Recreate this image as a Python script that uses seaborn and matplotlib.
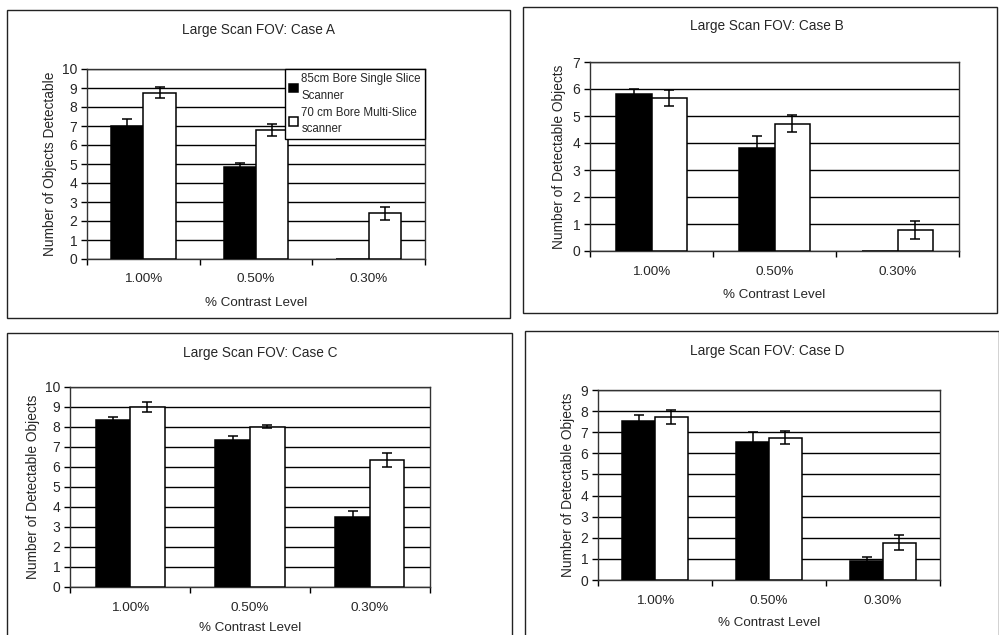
import matplotlib
matplotlib.use("Agg")
import matplotlib.pyplot as plt
from matplotlib.patches import Rectangle
import numpy as np
import pandas as pd
import seaborn as sns

# ---- data -------------------------------------------------------------
contrast_levels = ["1.00%", "0.50%", "0.30%"]
scanners = ["85cm Bore Single Slice\nScanner", "70 cm Bore Multi-Slice\nscanner"]

case_titles = ["Large Scan FOV: Case A", "Large Scan FOV: Case B",
               "Large Scan FOV: Case C", "Large Scan FOV: Case D"]
y_labels = ["Number of Objects Detectable", "Number of Detectable Objects",
            "Number of Detectable Objects", "Number of Detectable Objects"]
y_max = [10, 7, 10, 9]

single_slice_a = [7.0, 4.85, 0.0]
multi_slice_a = [8.75, 6.8, 2.4]
single_slice_err_a = [0.35, 0.2, 0.0]
multi_slice_err_a = [0.3, 0.32, 0.33]

single_slice_b = [5.8, 3.8, 0.0]
multi_slice_b = [5.68, 4.72, 0.78]
single_slice_err_b = [0.2, 0.47, 0.0]
multi_slice_err_b = [0.3, 0.33, 0.32]

single_slice_c = [8.33, 7.36, 3.52]
multi_slice_c = [9.0, 8.02, 6.36]
single_slice_err_c = [0.18, 0.2, 0.3]
multi_slice_err_c = [0.27, 0.08, 0.35]

single_slice_d = [7.52, 6.54, 0.88]
multi_slice_d = [7.72, 6.75, 1.77]
single_slice_err_d = [0.3, 0.47, 0.22]
multi_slice_err_d = [0.35, 0.33, 0.35]

cases = [
    (single_slice_a, multi_slice_a, single_slice_err_a, multi_slice_err_a),
    (single_slice_b, multi_slice_b, single_slice_err_b, multi_slice_err_b),
    (single_slice_c, multi_slice_c, single_slice_err_c, multi_slice_err_c),
    (single_slice_d, multi_slice_d, single_slice_err_d, multi_slice_err_d),
]

# ---- layout (pixels) ---------------------------------------------------
W, H = 999, 635
sns.set_theme(style="white")
plt.rcParams["font.family"] = ["Liberation Sans", "DejaVu Sans"]
plt.rcParams["axes.linewidth"] = 1.0

fig = plt.figure(figsize=(W / 100, H / 100), dpi=100)
fig.patch.set_facecolor("white")

# panel frame, plot area, title position, tick-label y, xlabel y, ylabel x
panels = [
    dict(box=(7, 10, 510, 318), area=(87, 69, 425, 259), title=(258, 30),
         xt=279, xl=303, yl=50),
    dict(box=(523, 7, 997, 313), area=(590, 62, 959, 251), title=(767, 26),
         xt=272, xl=295, yl=559),
    dict(box=(7, 333, 512, 640), area=(70, 387, 430, 587), title=(260, 353),
         xt=608, xl=628, yl=33),
    dict(box=(525, 331, 999, 640), area=(598, 390, 940, 580), title=(767, 351),
         xt=601, xl=623, yl=568),
]


def fx(x):
    return x / W


def fy(y):
    return 1 - y / H


for i, (p, vals) in enumerate(zip(panels, cases)):
    single, multi, s_err, m_err = vals
    bx0, by0, bx1, by1 = p["box"]
    fig.add_artist(Rectangle((fx(bx0), fy(by1)), fx(bx1 - bx0), (by1 - by0) / H,
                             transform=fig.transFigure, fill=False,
                             edgecolor="#222222", linewidth=1.0))

    l, t, r, b = p["area"]
    ax = fig.add_axes([fx(l), fy(b), fx(r - l), (b - t) / H])

    df = pd.DataFrame({
        "contrast": contrast_levels * 2,
        "scanner": [scanners[0]] * 3 + [scanners[1]] * 3,
        "value": list(single) + list(multi),
    })
    sns.barplot(data=df, x="contrast", y="value", hue="scanner",
                order=contrast_levels, hue_order=scanners,
                palette=["black", "white"], edgecolor="black", linewidth=1.1,
                width=0.575, gap=0, errorbar=None, legend=(i == 0), ax=ax,
                zorder=3)

    # error bars on each bar
    for cont, errs in zip(ax.containers, [s_err, m_err]):
        for bar, e in zip(cont, errs):
            if e <= 0:
                continue
            cx = bar.get_x() + bar.get_width() / 2
            ax.errorbar(cx, bar.get_height(), yerr=e, fmt="none",
                        ecolor="black", elinewidth=1.1, capsize=3.5,
                        capthick=1.1, zorder=4)

    ax.set_xlim(-0.5, 2.5)
    ax.set_ylim(0, y_max[i])
    ax.set_yticks(range(0, y_max[i] + 1))
    ax.yaxis.grid(True, color="black", linewidth=1.0)
    ax.set_axisbelow(True)
    for s in ax.spines.values():
        s.set_color("#333333")
        s.set_linewidth(1.0)

    ax.set_xticks([0, 1, 2])
    ax.set_xticklabels([])
    ax.set_xticks([-0.5, 0.5, 1.5, 2.5], minor=True)
    ax.tick_params(axis="x", which="major", length=0)
    ax.tick_params(axis="x", which="minor", length=4, width=1.0,
                   color="black", direction="out", bottom=True)
    ax.tick_params(axis="y", which="major", length=4, width=1.0,
                   color="black", direction="out", left=True,
                   labelsize=10, pad=3)
    ax.set_xlabel("")
    ax.set_ylabel("")

    for k, lab in enumerate(contrast_levels):
        xd = ax.transData.transform((k, 0))[0]
        fig.text(xd / W, fy(p["xt"]), lab, ha="center", va="center",
                 fontsize=9.7)

    fig.text(fx(p["title"][0]), fy(p["title"][1]), case_titles[i],
             ha="center", va="center", fontsize=9.8)
    fig.text(fx((l + r) / 2), fy(p["xl"]), "% Contrast Level",
             ha="center", va="center", fontsize=9.6)
    fig.text(fx(p["yl"]), fy((t + b) / 2), y_labels[i], ha="center",
             va="center", rotation=90, fontsize=9.9)

    if i == 0:
        handles, labels = ax.get_legend_handles_labels()
        leg = ax.legend(handles, labels, loc="upper right",
                        bbox_to_anchor=(1.0, 1.0), borderaxespad=0,
                        frameon=True, fancybox=False, edgecolor="black",
                        framealpha=1, fontsize=8.3, handlelength=0.75,
                        handleheight=0.75, handletextpad=0.3,
                        labelspacing=0.45, borderpad=0.35, title=None)
        for txt in leg.get_texts():
            txt.set_linespacing(1.5)
        leg.get_frame().set_linewidth(1.0)
        leg.set_zorder(10)

fig.savefig("out.png", dpi=100, facecolor="white")
